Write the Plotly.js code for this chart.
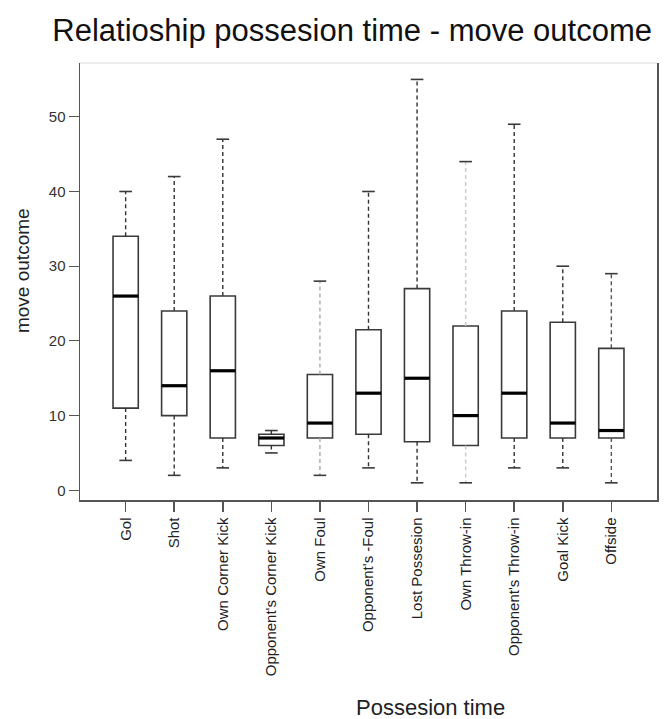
<!DOCTYPE html>
<html>
<head>
<meta charset="utf-8">
<script src="https://cdn.plot.ly/plotly-3.0.1.min.js"></script>
<style>html,body{margin:0;padding:0;background:#fff;}#chart{width:667px;height:719px;}</style>
</head>
<body>
<div id="chart"></div>
<script>
// ---- data ----
const categories = ["Gol", "Shot", "Own Corner Kick", "Opponent's Corner Kick", "Own Foul",
  "Opponent's -Foul", "Lost Possesion", "Own Throw-in", "Opponent's Throw-in", "Goal Kick", "Offside"];
const lowerWhisker = [4, 2, 3, 5, 2, 3, 1, 1, 3, 3, 1];
const q1Values     = [11, 10, 7, 6, 7, 7.5, 6.5, 6, 7, 7, 7];
const medianValues = [26, 14, 16, 7, 9, 13, 15, 10, 13, 9, 8];
const q3Values     = [34, 24, 26, 7.5, 15.5, 21.5, 27, 22, 24, 22.5, 19];
const upperWhisker = [40, 42, 47, 8, 28, 40, 55, 44, 49, 30, 29];
const yTickValues  = [0, 10, 20, 30, 40, 50];

// ---- styles ----
const FONT = "Liberation Sans, Arial, sans-serif";
const BOX_W = 0.52;
const CAP_HALF = 0.13;
const whiskerColors = ["#333","#333","#333","#333","#aaa","#333","#333","#c8c8c8","#333","#333","#555"];

const idx = categories.map((_, i) => i);
const traces = [];

// boxes (fences at quartiles; whiskers drawn separately as dashed lines)
traces.push({
  type: "box",
  x: idx,
  q1: q1Values, median: medianValues, q3: q3Values,
  lowerfence: q1Values, upperfence: q3Values,
  width: BOX_W,
  whiskerwidth: 0,
  fillcolor: "#ffffff",
  line: {color: "#3a3a3a", width: 1.6},
  hoverinfo: "skip",
  showlegend: false
});

// whiskers, grouped by colour
const colorSet = [...new Set(whiskerColors)];
colorSet.forEach(col => {
  const wx = [], wy = [];
  idx.forEach(i => {
    if (whiskerColors[i] !== col) return;
    wx.push(i, i, null, i, i, null);
    wy.push(q3Values[i], upperWhisker[i], null, q1Values[i], lowerWhisker[i], null);
  });
  traces.push({
    type: "scatter", mode: "lines", x: wx, y: wy,
    line: {color: col, width: 1.4, dash: "4px,3px"},
    hoverinfo: "skip", showlegend: false
  });
});

// caps
const cx = [], cy = [];
idx.forEach(i => {
  cx.push(i - CAP_HALF, i + CAP_HALF, null, i - CAP_HALF, i + CAP_HALF, null);
  cy.push(upperWhisker[i], upperWhisker[i], null, lowerWhisker[i], lowerWhisker[i], null);
});
traces.push({
  type: "scatter", mode: "lines", x: cx, y: cy,
  line: {color: "#3a3a3a", width: 1.6},
  hoverinfo: "skip", showlegend: false
});

// medians
const mx = [], my = [];
idx.forEach(i => {
  mx.push(i - BOX_W / 2, i + BOX_W / 2, null);
  my.push(medianValues[i], medianValues[i], null);
});
traces.push({
  type: "scatter", mode: "lines", x: mx, y: my,
  line: {color: "#000000", width: 3.2},
  hoverinfo: "skip", showlegend: false
});

const layout = {
  width: 667, height: 719,
  margin: {l: 80, r: 10, t: 63, b: 219},
  paper_bgcolor: "#ffffff",
  plot_bgcolor: "#ffffff",
  font: {family: FONT, color: "#222"},
  showlegend: false,
  title: {
    text: "Relatioship possesion time - move outcome",
    font: {family: FONT, size: 31, color: "#111"},
    xref: "container", x: 0.528, xanchor: "center",
    yref: "container", y: 0.958, yanchor: "middle"
  },
  xaxis: {
    range: [-0.94, 10.94],
    tickmode: "array",
    tickvals: idx,
    ticktext: categories,
    tickangle: -90,
    ticks: "outside", ticklen: 10, tickwidth: 1.5, tickcolor: "#555",
    tickfont: {family: FONT, size: 15, color: "#222"},
    showgrid: false, zeroline: false,
    showline: true, linecolor: "#555", linewidth: 1.5,
    fixedrange: true
  },
  yaxis: {
    range: [-1.3, 57.2],
    tickmode: "array",
    tickvals: yTickValues,
    ticktext: yTickValues.map(String),
    ticks: "outside", ticklen: 10, tickwidth: 1.2, tickcolor: "#555",
    tickfont: {family: FONT, size: 15, color: "#333"},
    showgrid: false, zeroline: false,
    showline: true, mirror: true, linecolor: "#555", linewidth: 1.5,
    fixedrange: true
  },
  shapes: [{
    type: "line", xref: "paper", yref: "paper",
    x0: 0, x1: 1, y0: 1, y1: 1,
    line: {color: "#e6e6e6", width: 1.5}
  }],
  annotations: [
    {
      text: "move outcome", xref: "paper", yref: "paper",
      x: -0.1005, y: 0.524, xanchor: "center", yanchor: "middle",
      textangle: -90, showarrow: false,
      font: {family: FONT, size: 19, color: "#222"}
    },
    {
      text: "Possesion time", xref: "paper", yref: "paper",
      x: 0.6066, y: -0.4737, xanchor: "center", yanchor: "middle",
      showarrow: false,
      font: {family: FONT, size: 22, color: "#222"}
    }
  ]
};

Plotly.newPlot("chart", traces, layout, {displayModeBar: false, staticPlot: true});
</script>
</body>
</html>
